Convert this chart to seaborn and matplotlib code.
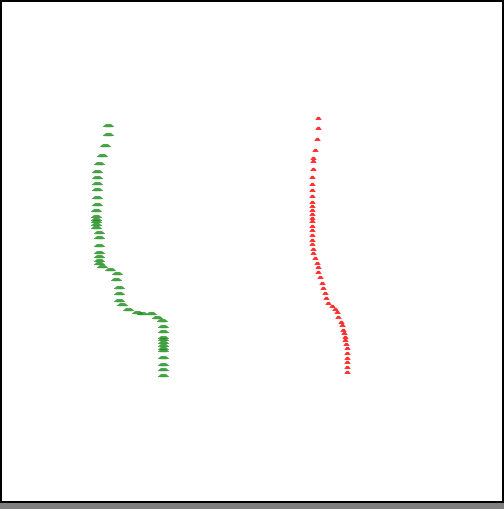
import matplotlib
matplotlib.use("Agg")
import matplotlib.pyplot as plt
from matplotlib.path import Path
import seaborn as sns
import pandas as pd

# Values (pixel-like coordinates, y grows downward)
green_x = [108, 108, 105, 102.3, 99.2, 96.5, 96.5, 96.5, 96.5, 96.5, 96.5, 96, 96, 96, 96, 96, 96,
           99, 99, 99, 99.3, 99.3, 99.3, 99.3, 101.7, 110, 116.7, 116, 119.3, 119.3, 118.5, 121.7,
           128, 136.7, 141.7, 150.5, 156.7, 162, 162.7, 162.7, 162.7, 162.7, 162.7, 162.7, 162.7,
           162.7, 162.7, 162.7, 162.7, 162.7]
green_y = [124.7, 134, 144.5, 155.2, 163, 170.5, 176.7, 182.7, 189, 196.5, 204, 210, 216, 218.7,
           221.3, 224, 226.7, 231.7, 237.3, 245, 251.7, 256, 260, 263.3, 266, 269.3, 273, 279,
           286.7, 292.5, 300, 304.3, 309.3, 312.3, 313.3, 313.3, 317, 320.3, 326, 330.7, 336.7,
           339.3, 342, 345, 348, 350, 356.7, 364, 369.3, 375]

red_x = [318.3, 318.3, 316.7, 315, 313.3, 313.3, 313.3, 311.7, 311.7, 311.7, 311.7, 311.7, 311.7,
         311.7, 311.7, 311.7, 311.7, 311.7, 311.7, 311.7, 311.7, 312, 313.3, 313.3, 315, 316.7,
         317.7, 318.3, 320, 321.7, 323.3, 324.5, 325.7, 328.3, 331.7, 335, 336.7, 338.3, 341,
         342.3, 343.3, 344.3, 345, 345, 345.7, 346.5, 346.7, 346.7, 346.7, 346.7, 346.7]
red_y = [117.7, 127.7, 138.7, 150, 157.7, 161, 169, 177, 184, 190.3, 196.3, 201.7, 206, 210,
         214.3, 217.7, 221, 225.5, 230, 235, 240, 244.3, 249, 253, 257.7, 262.7, 267.3, 271.7,
         277.3, 283, 288.3, 293.3, 297.7, 302.5, 306, 309.3, 312.3, 316.7, 321.7, 325, 330,
         333.3, 336.7, 340, 343.5, 348.3, 353.3, 357.7, 362, 366.7, 371.7]

green_df = pd.DataFrame({"x": green_x, "y": green_y})
red_df = pd.DataFrame({"x": red_x, "y": red_y})

W, H = 504, 509
fig = plt.figure(figsize=(W / 100, H / 100), dpi=100, facecolor="#808080")
ax = fig.add_axes([1 / W, 7 / H, 502 / W, 501 / H])
ax.set_facecolor("white")

green_marker = Path([(-1.0, -0.22), (-0.5, -0.28), (0.5, -0.28), (1.0, -0.22),
                     (0.4, 0.25), (-0.4, 0.25), (-1.0, -0.22)])
red_marker = Path([(-1.0, -0.45), (1.0, -0.45), (0.35, 0.5), (-0.35, 0.5), (-1.0, -0.45)])

sns.scatterplot(data=green_df, x="x", y="y", ax=ax, marker=green_marker, s=60,
                color="#1a8c1a", linewidth=0.3, edgecolor="#1a8c1a", alpha=0.8, legend=False)
sns.scatterplot(data=red_df, x="x", y="y", ax=ax, marker=red_marker, s=22,
                color="#ff1a1a", linewidth=0, alpha=0.9, legend=False)

ax.set_xlim(1, 503)
ax.set_ylim(502, 1)
ax.set_xticks([])
ax.set_yticks([])
ax.set_xlabel("")
ax.set_ylabel("")
for sp in ax.spines.values():
    sp.set_color("black")
    sp.set_linewidth(1.44)

fig.savefig("out.png", dpi=100, facecolor=fig.get_facecolor())
